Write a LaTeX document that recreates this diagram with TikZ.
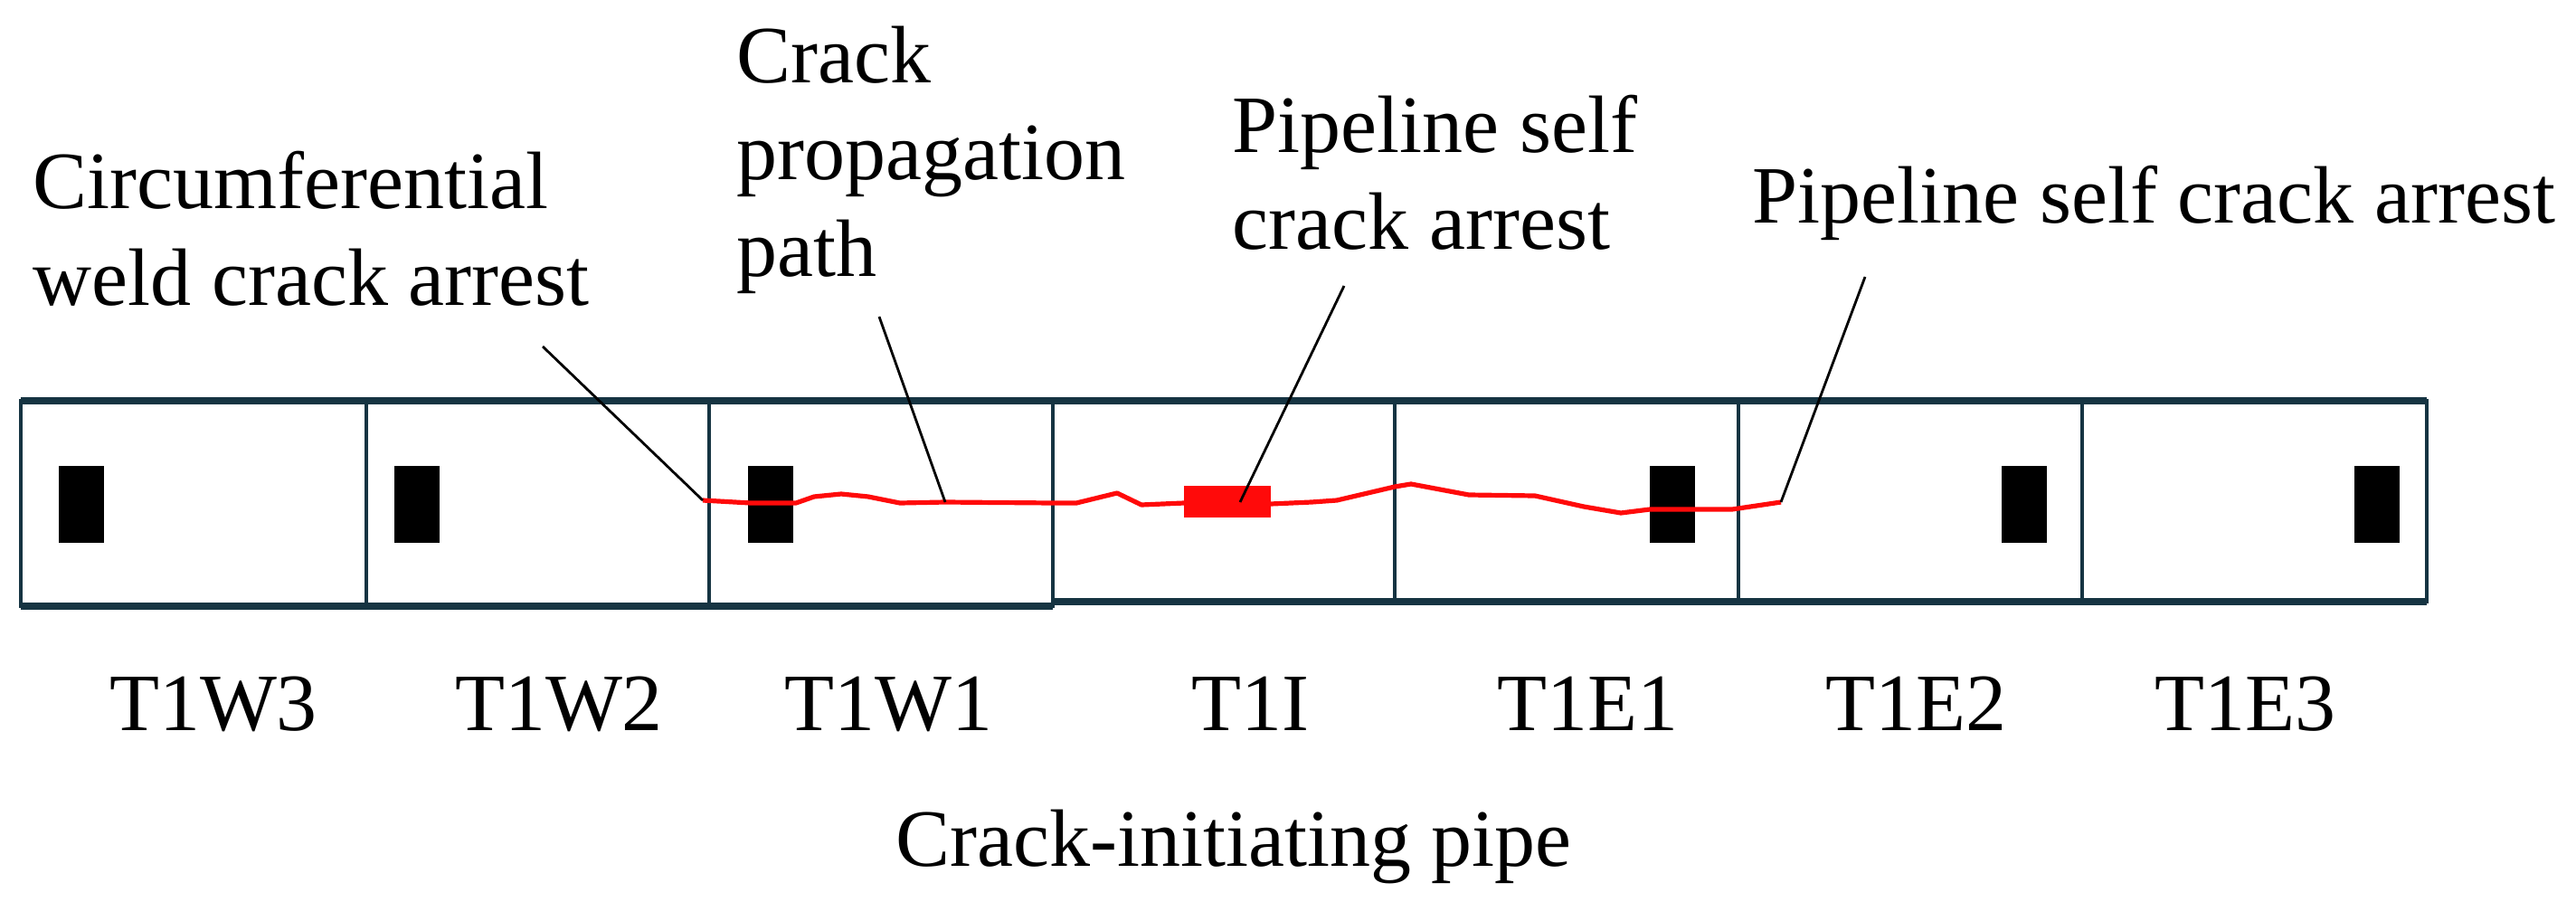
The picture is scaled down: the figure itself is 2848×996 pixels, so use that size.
\documentclass[tikz,border=0pt]{standalone}
\usepackage{fontspec}
\setmainfont{Liberation Serif}
\definecolor{pipecolor0000}{RGB}{22,52,66}
\definecolor{pipecolor0001}{RGB}{255,10,10}
\begin{document}
\begin{tikzpicture}[x=0.25pt,y=-0.25pt
,pstyle0/.style={color=pipecolor0000,line width=0.9pt}
,pstyle4/.style={color=pipecolor0000,line width=2pt}
,pstyle1/.style={fill=black,draw=none}
,pstyle2/.style={color=pipecolor0001,line width=1.3pt,line join=round}
,pstyle3/.style={color=black,line width=0.7pt}
,tstyle/.style={inner sep=0pt,font=\rmfamily\fontsize{22.5}{26.75}\selectfont,align=left}
]
\useasboundingbox (0,0) rectangle (2848,996);
% pipe sections
\draw[pstyle0] (23,443) rectangle (405,670);
\draw[pstyle0] (405,443) rectangle (784,670);
\draw[pstyle0] (784,443) rectangle (1164,670);
\draw[pstyle0] (1164,443) rectangle (1542,665);
\draw[pstyle0] (1542,443) rectangle (1922,665);
\draw[pstyle0] (1922,443) rectangle (2302,665);
\draw[pstyle0] (2302,443) rectangle (2683,665);
\draw[pstyle4] (23,443) -- (2683,443);
\draw[pstyle4] (23,670) -- (1164,670);
\draw[pstyle4] (1164,665) -- (2683,665);
% gauges
\foreach \gx in {65,436,827,1824,2213,2603}
  \fill[pstyle1] (\gx,515) rectangle ++(50,85);
% crack
\fill[pipecolor0001] (1309,537) rectangle (1405,572);
\draw[pstyle2] (777,553) -- (830,556) -- (880,556) -- (900,549) -- (930,546) -- (960,549) -- (995,556) -- (1045,555) -- (1164,556) -- (1190,556) -- (1235,545) -- (1262,558) -- (1309,556);
\draw[pstyle2] (1405,557) -- (1450,555) -- (1478,553) -- (1542,538) -- (1560,535) -- (1624,547) -- (1697,548) -- (1751,560) -- (1792,567) -- (1824,563) -- (1915,563) -- (1969,555);
\coordinate (weld) at (777,553);
\coordinate (path) at (1045,555);
\coordinate (init) at (1371,555);
\coordinate (stop) at (1969,555);
% labels
\node[tstyle,anchor=north west] (weldtxt) at (36,166) {Circumferential\\weld crack arrest};
\node[tstyle,anchor=north west] (pathtxt) at (814,28) {Crack\\propagation\\path};
\node[tstyle,anchor=north west] (inittxt) at (1362,104) {Pipeline self\\crack arrest};
\node[tstyle,anchor=north west] (stoptxt) at (1937,182) {Pipeline self crack arrest};
\coordinate (weldend) at (600,383);
\coordinate (pathend) at (972,350);
\coordinate (initend) at (1486,316);
\coordinate (stopend) at (2062,306);
\draw[pstyle3] (weldend) -- (weld);
\draw[pstyle3] (pathend) -- (path);
\draw[pstyle3] (initend) -- (init);
\draw[pstyle3] (stopend) -- (stop);
\node[tstyle,anchor=base] (w3) at (236,807) {T1W3};
\node[tstyle,anchor=base] (w2) at (618,807) {T1W2};
\node[tstyle,anchor=base] (w1) at (982,807) {T1W1};
\node[tstyle,anchor=base] (i0) at (1382,807) {T1I};
\node[tstyle,anchor=base] (e1) at (1755,807) {T1E1};
\node[tstyle,anchor=base] (e2) at (2118,807) {T1E2};
\node[tstyle,anchor=base] (e3) at (2482,807) {T1E3};
\node[tstyle,anchor=base] (pipe) at (1364,957) {Crack-initiating pipe};
\end{tikzpicture}
\end{document}
